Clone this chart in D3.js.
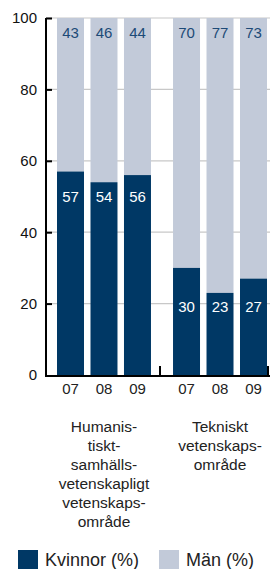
<!DOCTYPE html>
<html><head><meta charset="utf-8">
<script src="https://cdn.jsdelivr.net/npm/d3@7"></script>
<style>body{margin:0;background:#fff}svg{display:block;font-family:"Liberation Sans",Arial,sans-serif}</style>
</head><body><svg id="c" width="270" height="569"></svg>
<script>
const groups = ["Humanistiskt-samhällsvetenskapligt vetenskapsområde", "Tekniskt vetenskapsområde"];
const groupLines = [["Humanis-","tiskt-","samhälls-","vetenskapligt","vetenskaps-","område"],["Tekniskt","vetenskaps-","område"]];
const years = ["07","08","09"];
const kvinnor = [[57,54,56],[30,23,27]];
const man = [[43,46,44],[70,77,73]];
const yTicks = [0,20,40,60,80,100];
const legendLabels = ["Kvinnor (%)","Män (%)"];

const dark = "#003865", light = "#c2cad9";
const svg = d3.select("#c");
const y = d3.scaleLinear().domain([0,100]).range([375,18]);
const gx = d3.scaleBand().domain(d3.range(groups.length)).range([57,267]).paddingInner(0.19).paddingOuter(0);
const bx = d3.scaleBand().domain(years).range([0, gx.bandwidth()]).paddingInner(0.194).paddingOuter(0);

// gridlines
svg.append("g").selectAll("line").data(yTicks.filter(d=>d>0)).join("line")
  .attr("x1",46).attr("x2",270).attr("y1",d=>y(d)).attr("y2",d=>y(d))
  .attr("stroke","#c8c8c8").attr("stroke-width",1.2);

groups.forEach((g,gi)=>{
  const G = svg.append("g").attr("transform",`translate(${gx(gi)},0)`);
  years.forEach((yr,i)=>{
    const x0 = bx(yr), w = bx.bandwidth();
    G.append("rect").attr("x",x0).attr("width",w).attr("y",y(100)).attr("height",y(kvinnor[gi][i])-y(100)).attr("fill",light);
    G.append("rect").attr("x",x0).attr("width",w).attr("y",y(kvinnor[gi][i])).attr("height",y(0)-y(kvinnor[gi][i])).attr("fill",dark);
    G.append("text").attr("x",x0+w/2).attr("y",y(100)+20).attr("text-anchor","middle")
      .attr("font-size",15).attr("fill","#1d4a77").text(man[gi][i]);
    G.append("text").attr("x",x0+w/2).attr("y",y(d3.min(kvinnor[gi]))+19.5).attr("text-anchor","middle")
      .attr("font-size",15).attr("fill","#fff").text(kvinnor[gi][i]);
    G.append("text").attr("x",x0+w/2).attr("y",394).attr("text-anchor","middle")
      .attr("font-size",15).attr("fill","#222").text(yr);
  });
  const cx = gx(gi)+gx.bandwidth()/2;
  groupLines[gi].forEach((ln,li)=>{
    svg.append("text").attr("x",cx).attr("y",432+li*19).attr("text-anchor","middle")
      .attr("font-size",15.5).attr("fill","#222").text(ln);
  });
});

// y axis
const yAxis = d3.axisLeft(y).tickValues(yTicks).tickSize(-6).tickPadding(10);
const ya = svg.append("g").attr("transform","translate(46,0)").call(yAxis);
ya.select(".domain").attr("stroke","#000").attr("stroke-width",2).attr("d","M0,18V376");
ya.selectAll(".tick line").attr("stroke","#000").attr("stroke-width",2).attr("x1",0).attr("x2",6);
ya.selectAll(".tick text").attr("font-size",15).attr("fill","#111").attr("font-family","Liberation Sans, Arial, sans-serif").attr("x",-9);
ya.selectAll(".tick").filter(d=>d===0).select("line").remove();

// x baseline
svg.append("line").attr("x1",45).attr("x2",270).attr("y1",376).attr("y2",376).attr("stroke","#000").attr("stroke-width",2);
const sep = gx(1) - gx.step()*gx.paddingInner()/2 - 2;
[sep, 268].forEach(xv=>{
  svg.append("line").attr("x1",xv).attr("x2",xv).attr("y1",366).attr("y2",376).attr("stroke","#000").attr("stroke-width",2);
});

// legend
const lx = [18,159];
legendLabels.forEach((l,i)=>{
  svg.append("rect").attr("x",lx[i]).attr("y",550).attr("width",20).attr("height",19).attr("fill",i===0?dark:light);
  svg.append("text").attr("x",lx[i]+27).attr("y",566).attr("font-size",18).attr("fill","#222").text(l);
});
</script></body></html>
